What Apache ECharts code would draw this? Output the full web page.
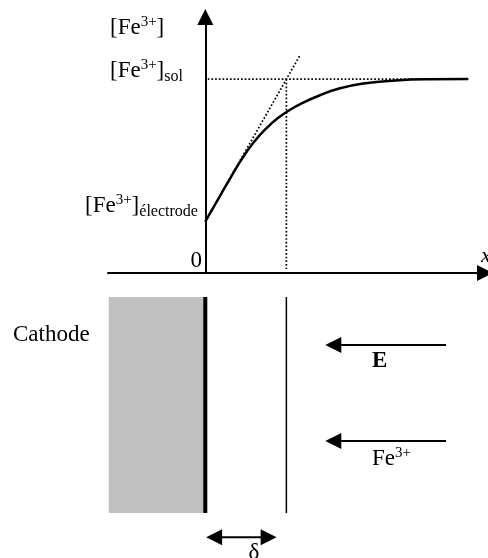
<!DOCTYPE html>
<html>
<head>
<meta charset="utf-8">
<script src="https://cdn.jsdelivr.net/npm/echarts@6/dist/echarts.min.js"></script>
<style>
  html, body { margin: 0; padding: 0; background: #fff; }
  #chart { width: 488px; height: 558px; }
</style>
</head>
<body>
<div id="chart"></div>
<script>
// profil de concentration : x en unités de delta, [Fe3+] en unités de [Fe3+]sol
var curveX = [0, 0.1, 0.2, 0.3, 0.45, 0.6, 0.75, 0.9, 1.05, 1.2, 1.4, 1.65, 1.95, 2.35, 2.75, 3.24];
var curveY = [0.265, 0.338, 0.411, 0.483, 0.587, 0.675, 0.745, 0.8, 0.843, 0.877, 0.914, 0.951, 0.977, 0.993, 0.999, 1.0];
var cElectrode = 0.265;
var cSol = 1;
var delta = 1;
var tangentEnd = [1.17, 1.124];
var solLineX = [0.03, 3.26];

// schéma de la cathode (même repère, y négatif sous l'axe)
var cathodeX = [-1.19, 0];
var cathodeY = [-0.124, -1.238];
var arrowTailX = 2.97;
var arrowTipX = 1.48;
var arrowEY = -0.371;
var arrowFeY = -0.866;
var deltaArrowX = [0.01, 0.88];
var deltaArrowY = -1.362;

var serif = "'Liberation Serif', 'DejaVu Serif', serif";
var FS = 23;
var dotted = { color: '#000', width: 1.7, type: [1.7, 2] };

var curveData = curveX.map(function (x, i) { return [x, curveY[i]]; });

function renderArrow(params, api) {
  var p1 = api.coord([api.value(0), api.value(1)]);
  var p2 = api.coord([api.value(2), api.value(3)]);
  var both = api.value(4);
  var L = 16, H = 8;
  function unit(a, b) {
    var dx = b[0] - a[0], dy = b[1] - a[1];
    var len = Math.sqrt(dx * dx + dy * dy);
    return [dx / len, dy / len];
  }
  function head(tip, u) {
    var bx = tip[0] - u[0] * L, by = tip[1] - u[1] * L;
    return {
      type: 'polygon',
      shape: { points: [tip, [bx - u[1] * H, by + u[0] * H], [bx + u[1] * H, by - u[0] * H]] },
      style: { fill: '#000' }
    };
  }
  var u = unit(p1, p2);
  var s = both ? [p1[0] + u[0] * (L - 2), p1[1] + u[1] * (L - 2)] : p1;
  var e = [p2[0] - u[0] * (L - 2), p2[1] - u[1] * (L - 2)];
  var children = [
    { type: 'line', shape: { x1: s[0], y1: s[1], x2: e[0], y2: e[1] }, style: { stroke: '#000', lineWidth: 2 } },
    head(p2, u)
  ];
  if (both) children.push(head(p1, [-u[0], -u[1]]));
  return { type: 'group', children: children };
}

function renderCathode(params, api) {
  var a = api.coord([api.value(0), api.value(2)]);
  var b = api.coord([api.value(1), api.value(3)]);
  return {
    type: 'rect',
    shape: { x: a[0], y: a[1], width: b[0] - a[0], height: b[1] - a[1] },
    style: { fill: '#c0c0c0' }
  };
}

var rich = {
  b: { fontSize: FS, fontFamily: serif, color: '#000', lineHeight: 27 },
  bb: { fontSize: FS, fontFamily: serif, color: '#000', lineHeight: 27, fontWeight: 'bold' },
  sup: { fontSize: 15, fontFamily: serif, color: '#000', lineHeight: 15, verticalAlign: 'top' },
  sub: { fontSize: 16, fontFamily: serif, color: '#000', lineHeight: 17, verticalAlign: 'bottom' }
};

function label(x, y, text, align) {
  return {
    type: 'text', x: x, y: y, z: 10,
    style: { text: text, rich: rich, align: align || 'left', verticalAlign: 'middle' }
  };
}

var chart = echarts.init(document.getElementById('chart'));
chart.setOption({
  animation: false,
  backgroundColor: '#fff',
  grid: { left: 108, right: 3, top: 17, bottom: 285 },
  xAxis: {
    type: 'value', min: -1.2, max: 3.45,
    axisLine: { onZero: true, symbol: ['none', 'triangle'], symbolSize: [16, 16], lineStyle: { color: '#000', width: 2 } },
    axisTick: { show: false }, axisLabel: { show: false }, splitLine: { show: false }
  },
  yAxis: {
    type: 'value', min: 0, max: 1.32,
    axisLine: { show: true, onZero: true, symbol: ['none', 'triangle'], symbolSize: [16, 16], lineStyle: { color: '#000', width: 2 } },
    axisTick: { show: false }, axisLabel: { show: false }, splitLine: { show: false }
  },
  graphic: [
    label(110, 28, '{b|[Fe}{sup|3+}{b|]}'),
    label(110, 71, '{b|[Fe}{sup|3+}{b|]}{sub|sol}'),
    label(85, 206, '{b|[Fe}{sup|3+}{b|]}{sub|électrode}'),
    label(202, 261, '{b|0}', 'right'),
    { type: 'text', x: 481, y: 256, style: { text: 'x', font: 'italic 22px ' + serif, fill: '#000', verticalAlign: 'middle' } },
    label(13, 335, '{b|Cathode}'),
    label(372, 361, '{bb|E}'),
    label(372, 459, '{b|Fe}{sup|3+}'),
    label(254, 553, '{b|δ}', 'center')
  ],
  series: [
    {
      type: 'line', name: 'sol', data: [[solLineX[0], cSol], [solLineX[1], cSol]],
      symbol: 'none', lineStyle: dotted, z: 3
    },
    {
      type: 'line', name: 'delta', data: [[delta, cSol], [delta, 0.02]],
      symbol: 'none', lineStyle: dotted, z: 3
    },
    {
      type: 'line', name: 'tangente', data: [[0, cElectrode], tangentEnd],
      symbol: 'none', lineStyle: dotted, z: 3
    },
    {
      type: 'line', name: 'profil', data: curveData, smooth: 0.5,
      symbol: 'none', lineStyle: { color: '#000', width: 2.5 }, z: 4
    },
    {
      type: 'custom', name: 'cathode', clip: false, renderItem: renderCathode,
      data: [[cathodeX[0], cathodeX[1], cathodeY[0], cathodeY[1]]], z: 2
    },
    {
      type: 'line', name: 'electrode', clip: false, data: [[cathodeX[1], cathodeY[0]], [cathodeX[1], cathodeY[1]]],
      symbol: 'none', lineStyle: { color: '#000', width: 4 }, z: 3
    },
    {
      type: 'line', name: 'couche', clip: false, data: [[delta, cathodeY[0]], [delta, cathodeY[1]]],
      symbol: 'none', lineStyle: { color: '#000', width: 1.5 }, z: 3
    },
    {
      type: 'custom', name: 'fleches', clip: false, renderItem: renderArrow,
      data: [
        [arrowTailX, arrowEY, arrowTipX, arrowEY, 0],
        [arrowTailX, arrowFeY, arrowTipX, arrowFeY, 0],
        [deltaArrowX[0], deltaArrowY, deltaArrowX[1], deltaArrowY, 1]
      ], z: 5
    }
  ]
});
</script>
</body>
</html>
